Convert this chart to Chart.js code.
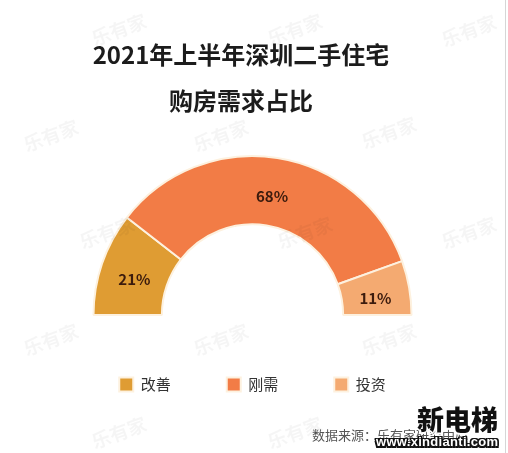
<!DOCTYPE html>
<html lang="zh-CN">
<head>
<meta charset="utf-8">
<title>2021年上半年深圳二手住宅购房需求占比</title>
<script src="https://cdn.jsdelivr.net/npm/chart.js@4/dist/chart.umd.min.js"></script>
<style>
    body { margin: 0; background: #fff; }
    #wrap { position: relative; width: 508px; height: 453px; overflow: hidden; background: #fff;
            font-family: "Noto Sans CJK SC", "Noto Sans", sans-serif; }
    #chart { position: absolute; left: 0; top: 0; }
    .title { position: absolute; left: 0; width: 482px; text-align: center; font-size: 24px;
             font-weight: bold; color: #1c1c1c; line-height: 46px; white-space: nowrap; }
    .source { position: absolute; left: 312px; top: 425px; font-size: 13px; color: #555; line-height: 20px;
              white-space: nowrap; }
    .wm { position: absolute; font-size: 19px; font-weight: bold; color: rgba(0,0,0,0.04);
          transform: rotate(-20deg); pointer-events: none; white-space: nowrap; }
    .logo { position: absolute; left: 417px; top: 399px; font-size: 27px; font-weight: 900; color: #111;
            white-space: nowrap;
            text-shadow: -2px 0 #fff, 2px 0 #fff, 0 -2px #fff, 0 2px #fff; }
    .url { position: absolute; left: 376px; top: 434px; font-size: 13px; font-weight: bold; color: #fff;
           font-family: "Liberation Sans", sans-serif; letter-spacing: 0.3px; white-space: nowrap;
           line-height: 16px;
           text-shadow: -1.5px 0 #111, 1.5px 0 #111, 0 -1.5px #111, 0 1.5px #111,
                        -1.5px -1.5px #111, 1.5px 1.5px #111, -1.5px 1.5px #111, 1.5px -1.5px #111; }
    .edge { position: absolute; left: 505px; top: 0; width: 1px; height: 453px; background: #d6d6d6; }
</style>
</head>
<body>
<div id="wrap">
    <canvas id="chart" width="508" height="453"></canvas>
    <div class="title" style="top:31px">2021年上半年深圳二手住宅</div>
    <div class="title" style="top:77px">购房需求占比</div>
    <div class="source">数据来源：乐有家研究中心</div>
    <div class="logo">新电梯</div>
    <div class="url">www.xindianti.com</div>
    <div class="edge"></div>
</div>
<script>
// 数据
var categories = ['改善', '刚需', '投资'];
var shares = [21, 68, 11];
var colors = ['#df9c33', '#f27c46', '#f4aa71'];

// 水印位置
var marks = [[90, 15], [266, 15], [440, 16], [22, 121], [192, 121], [360, 118],
             [78, 218], [276, 218], [440, 218], [22, 325], [192, 325], [360, 325],
             [90, 418], [266, 418]];
var wrap = document.getElementById('wrap');
marks.forEach(function (m) {
    var d = document.createElement('div');
    d.className = 'wm';
    d.style.left = m[0] + 'px';
    d.style.top = m[1] + 'px';
    d.textContent = '乐有家';
    wrap.appendChild(d);
});

// 扇区内的百分比标签
var sliceLabels = {
    id: 'sliceLabels',
    afterDatasetsDraw: function (chart) {
        var ctx = chart.ctx;
        var meta = chart.getDatasetMeta(0);
        ctx.save();
        ctx.font = 'bold 15px "Noto Sans CJK SC", sans-serif';
        ctx.fillStyle = '#3b1b0d';
        ctx.textAlign = 'center';
        ctx.textBaseline = 'middle';
        meta.data.forEach(function (arc, i) {
            var p = arc.getCenterPoint();
            ctx.fillText(shares[i] + '%', p.x, p.y + 5);
        });
        ctx.restore();
    }
};

var chart = new Chart(document.getElementById('chart').getContext('2d'), {
    type: 'doughnut',
    data: {
        labels: categories,
        datasets: [{
            data: shares,
            backgroundColor: colors,
            borderColor: '#fdf1df',
            borderWidth: 2
        }]
    },
    options: {
        responsive: false,
        animation: false,
        rotation: -90,
        circumference: 180,
        cutout: '57%',
        layout: { padding: { top: 155, left: 0, right: 3, bottom: 51 } },
        plugins: {
            tooltip: { enabled: false },
            legend: {
                position: 'bottom',
                title: { display: true, text: '', font: { size: 5, lineHeight: 1 }, padding: 0 },
                labels: {
                    boxWidth: 14,
                    boxHeight: 14,
                    padding: 56,
                    color: '#333',
                    font: { size: 15, family: '"Noto Sans CJK SC", sans-serif' }
                }
            }
        }
    },
    plugins: [sliceLabels]
});
</script>
</body>
</html>
